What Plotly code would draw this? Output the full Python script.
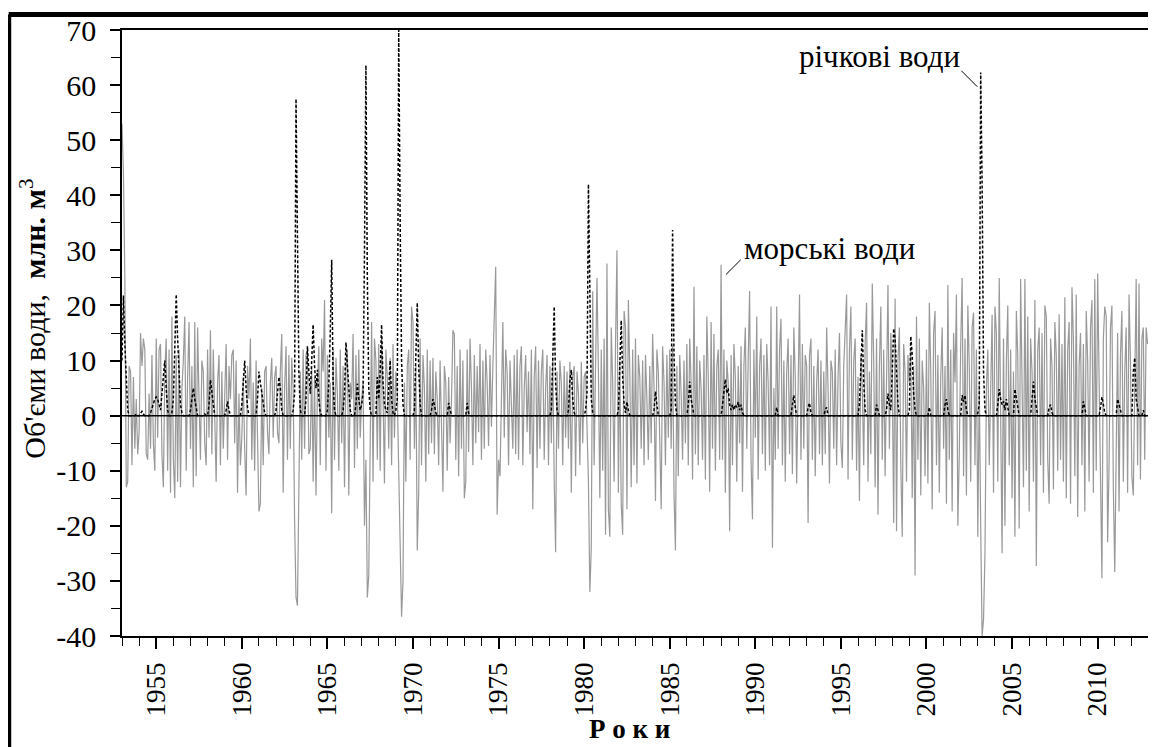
import plotly.graph_objects as go

# ---------------- data (monthly) ----------------
first_year = 1953
tick_years = [1955, 1960, 1965, 1970, 1975, 1980, 1985, 1990, 1995, 2000, 2005, 2010]
y_ticks = [-40, -30, -20, -10, 0, 10, 20, 30, 40, 50, 60, 70]

# sea water exchange (grey solid), 12 monthly values per year
sea_1953_1962 = [
    [53, 44, 25, -13, -12, 9, 8, -9, 7, -6, 3, -7],
    [-3, 15, 9, 14, 12, -7, -8, 4, -6, 11, -5, -10],
    [14, -4, 12, 13, -7, -13, 8, 14, -10, 12, -14, 18],
    [-8, -15, 11, -12, 12, -13, 5, 10, 18, -10, 7, 17],
    [-6, 9, -13, 17, -11, 16, 3, -8, 10, 8, -5, -9],
    [12, -4, 15.5, -7, 12, -3, -12, 6, 11, -9, 8, -6],
    [5, 13, -8, 9, 3, 11, 12, -5, 10, -14, 4, -9],
    [-4, 7, -6, -14.5, 9, 3, 14, -8, 6, -10, 10, -3],
    [-17.4, -16, 5, -9, 8, 9, -3, -7, 6, 10.5, -4, 7],
    [9, -3, -5, 8, 14.8, -14, 5, 12.6, -8, 11, -6, 10.5],
]
sea_1963_1972 = [
    [5, -19, -33, -34.5, -14, 8, -8, 12, -6, 11, 12, -7],
    [-6, 9, -12, 7, -14.5, 5, 12.6, -9, 14, 8, 21, -10],
    [11, -4, 6, -17.7, 12, -8, 10.5, 4, -10, 12, -5, 9],
    [-13, 8, 12, -14.5, 6, 3, 14.8, -9.5, 11, -6, 12, -4],
    [3, 6, -20, -8, -33, -29, -5, 17, -12, 14, 10, -8],
    [13, -10, 14, 4, -12.3, 12, 7, -6, 10.5, -9, 13, -4],
    [8, 4, -10, -25, -36.5, -30, 6, -12, 9, 12, -8, 19.8],
    [17, -6, 9, -24.5, -14, 14, -9, 11, 5, -12, 12, -7],
    [10, -5, 10.5, -7, 8, 3, -9, 10, -4, -13.8, 9, 6],
    [-10, 7, -5, 3, 15.5, 14.8, -8, 9, -11, 12, -6, 10],
]
sea_1973_1982 = [
    [-15, -12, 12, -6.6, 14, 5, -9, 11, -5, 9, -3, 13],
    [-8, 10, -6, 12, 6, -5.5, 11, -2, 9, 20.8, 27, -18],
    [-8, -11, 6, 17, -4, 12, 8, -9, 10, 3, -6, 11],
    [-7, 12, -8, 9, 12.6, -9, 5, 11, -3, 8, -7, 12],
    [-17, 7, 12.6, -9.5, 10, -6, 8, 12, -8, 5, 11, -9],
    [9, -5, 10.5, -11.6, -24.8, 8, -6, 10, 6, -9, 9, -4],
    [8, -6, 9.8, -14, 7, 9, -11, 8, 4, -9, 9.8, -5],
    [7, 8, -5, -12, -32, -24, 22.6, -9, 9, 25, 8, -15],
    [12, -10, 14, -21.6, 27.6, -17, -22, 16, 6, -12, 13, 30],
    [-14, 10, -16, -21.6, 19, 16, -17, 21, 8, -13, 12, -9],
]
sea_1983_1992 = [
    [14, -12.3, 11, 7, -6, 10, -9, 11, 3, -8, 9, -5],
    [14.8, 5, -15.5, 12, 8, -7, -17, 12.6, 6, -9, 11, -4],
    [12, -6, 12.6, -14, -24.5, 9, -11, 11, 4, -8, 10, -5],
    [13, -9, 14, 6, -11.6, 23.4, -7, 12.6, -9, 10, 5, -8],
    [11, -11.6, 18, 7, -13.8, 17, -6, 14.8, -10, 9, 12, -8],
    [27.4, -8, 12, -14, 10, 6, -21, 11, -9, 13, 7, -12],
    [9, -5, 12.6, -13.8, 9, 16, -6, 10, 22.6, -8, -18.8, 12],
    [-4, 18, -11.6, 9, 14, -7, 11, -10, 13, 6, -9, 19.8],
    [-24, 5, -8, 19.8, -6, 12, 17.6, -9, 10, -12, 8, 14],
    [-7, 11, -10.6, 16, 7, -12.3, 9, 22, -8, 13, -6, 11],
]
sea_1993_2002 = [
    [9, -19.5, 11, 14, -8, 9, -11, 6, 12, -7, 10, -9],
    [8, -7, 16, 5, -12.3, 10, 8, -6, 12, -9, 7, 15],
    [-5, -9.5, 9, 15.5, 22, -11.6, 12, 19.8, -8, 10, 14, -10],
    [7, -15.5, 11, 5, -9, 13, 20.5, -12, 8, -7, 24, 10],
    [-13, 14, -18, 9, 19.8, -8, 12, -11, 10, 23.7, -6, 15],
    [7, -19.5, 21.2, -21, 10, 16, -9, -22, 13, 8, -12, 11],
    [6, 12, -15, 9, -29, 18, -8, 14, -14.5, 10, 5, -11],
    [12, -12.3, 20.5, 8, -17, 15, 19, -9, 11, -14, 7, 16],
    [-6, 9, -16, 23.7, -8, 12, -17.4, 15, 6, 22, -20, -7],
    [13, 25, -11, 14, -14.5, 20, 9, -12, 16, 18.7, -9, 12],
]
sea_2003_2012 = [
    [-22, 6, -20, -40, -37, -25, 5, 12, -9, 8, 18.3, -14],
    [19.8, 15, -12, 25, -8, -25, 14, -20, 10, 20, -9, 12],
    [-15, 8, -22, 19, 11, -20.5, 24.8, 9, -13, 24.8, -10, 18],
    [-17.4, 14, 8, -12, 21, -27.3, 12, 16, -9, 15, -14, 20],
    [18, -8, -16, 14, 9, -13.4, 17, 11, -10, 18.4, -8, 13],
    [-12, 21.5, -15, 12, 17, -16, 23.3, 14, -11, 22, -18.4, 9],
    [15, -9, 13, -17.4, 19, 10, -12, 16, 21, -14, 24.8, -10],
    [25.8, 7, -12, -29.5, 14, 19.8, 18, -23, -9, 16, 20, -13],
    [-28.4, -8, 15, -17.4, 11, 19, -12, 8, 16, -14, 22, 10],
    [-11, -14.5, 10, 24.8, -9, 24, -11.6, 14, 16, -8, 16, 13],
]

# river water inflow (black dotted), 12 monthly values per year
river_1953_1962 = [
    [10, 21.8, 13, 5, 1, 0, 0, 0, 0, 0, 0.3, 0],
    [0, 0.5, 0.8, 0.3, 0, 0, 0, 0, 0.5, 1.5, 2.5, 3],
    [3.4, 3, 2, 1, 4, 7, 10, 5, 1, 0, 0, 0.5],
    [3, 12, 22, 14, 8, 2, 0.5, 0, 0, 0, 0, 0],
    [1, 3, 5, 3, 1, 0, 0, 0, 0, 0, 0.3, 0],
    [0, 2, 6.5, 4, 1.5, 0, 0, 0, 0, 0, 0, 0],
    [0, 1, 2.6, 1, 0, 0, 0, 0, 0, 0, 0, 0],
    [2, 6, 10, 5, 1.5, 0, 0, 0, 0, 0, 0, 3],
    [8, 6, 4, 2, 0.5, 0, 0, 0, 0, 0, 0, 0],
    [1, 4, 7, 5, 1, 0, 0, 0, 0, 0, 0, 0],
]
river_1963_1972 = [
    [1, 4, 57.5, 28, 8, 1, 0, 0, 0, 3, 12.6, 8],
    [4, 10, 16.5, 9, 5, 8.3, 3, 0.5, 0, 0, 0, 0],
    [1, 6, 15, 28.3, 6, 1, 0, 0, 0, 0, 0, 1],
    [4, 13.3, 9, 4, 1, 0, 0, 0, 2, 5.8, 3, 1],
    [2, 4, 30, 63.6, 25, 5, 1, 0, 0, 0, 0, 7],
    [3, 8, 16.5, 6, 2, 1, 0.5, 5, 10, 3, 0.5, 0],
    [1, 3, 70, 35, 10, 2, 0, 0, 0, 0, 0, 0],
    [0, 1, 10, 20.5, 9, 2, 0, 0, 0, 0, 0, 0],
    [0, 1, 3, 2, 0.5, 0, 0, 0, 0, 0, 0, 0],
    [0, 2.3, 1, 0, 0, 0, 0, 0, 0, 0, 0, 0],
]
river_1973_1982 = [
    [0, 0, 2.3, 0.5, 0, 0, 0, 0, 0, 0, 0, 0],
    [0, 0, 0, 0, 0, 0, 0, 0, 0, 0, 0, 0],
    [0, 0, 0, 0, 0, 0, 0, 0, 0, 0, 0, 0],
    [0, 0, 0, 0, 0, 0, 0, 0, 0, 0, 0, 0],
    [0, 0, 0, 0, 0, 0, 0, 0, 0, 0, 0, 0],
    [0, 1, 10, 19.8, 6, 1, 0, 0, 0, 0, 0, 0],
    [0, 1, 6.5, 8.3, 3, 0.5, 0, 0, 0, 0, 0, 0],
    [0, 1, 4, 42, 17, 3, 0.5, 0, 0, 0, 0, 0],
    [0, 0, 0, 0, 0, 0, 0, 0, 0, 0, 0, 0],
    [1, 8, 17.3, 7, 2, 0.5, 2.5, 1, 0, 0, 0, 0],
]
river_1983_1992 = [
    [0, 0, 0, 0, 0, 0, 0, 0, 0, 0, 0, 0],
    [0, 1, 4.4, 2, 0, 0, 0, 0, 0, 0, 0, 0],
    [0, 1, 33.7, 11, 2, 0, 0, 0, 0, 0, 0, 0],
    [0, 2, 6.2, 3, 1, 0, 0, 0, 0, 0, 0, 0],
    [0, 0, 0, 0, 0, 0, 0, 0, 0, 0, 0, 0],
    [0, 2, 4, 6.6, 4, 5, 2, 1, 2, 1, 2, 1.5],
    [2.5, 1, 2, 0.5, 0, 0, 0, 0, 0, 0, 0, 0],
    [0, 0, 0, 0, 0, 0, 0, 0, 0, 0, 0, 0],
    [0, 0, 0, 1.5, 0, 0, 0, 0, 0, 0, 0, 0],
    [0, 0, 2, 3.7, 1.5, 0, 0, 0, 0, 0, 0, 0],
]
river_1993_2002 = [
    [0, 1.5, 2.3, 0.5, 0, 0, 0, 0, 0, 0, 0, 0],
    [0, 1, 1.5, 0, 0, 0, 0, 0, 0, 0, 0, 0],
    [0, 0, 0, 0, 0, 0, 0, 0, 0, 0, 0, 0],
    [0, 2, 9, 15.5, 6, 1, 0, 0, 0, 0, 0, 0],
    [0, 2, 1, 0, 0, 0, 0, 0, 1, 4, 2, 1],
    [8, 15.8, 14, 6, 2, 0, 0, 0, 0, 0, 0, 0],
    [1, 14.4, 11, 4, 1, 0, 0, 0, 0, 0, 0, 0],
    [0, 0, 1.5, 0, 0, 0, 0, 0, 0, 0, 0, 0],
    [0, 2, 3, 1, 0, 0, 0, 0, 0, 0, 0, 0],
    [0, 3.7, 2.5, 3.7, 1, 0, 0, 0, 0, 0, 0, 0],
]
river_2003_2012 = [
    [0.5, 2, 62.3, 42, 8, 1, 0, 0, 0, 0, 0, 0],
    [0, 0, 2, 4.8, 3, 2, 2.6, 1, 3, 1.5, 0, 0],
    [0, 0, 4.8, 3, 1, 0, 0, 0, 0, 0, 0, 0],
    [0, 0, 3, 6.2, 3, 1, 0, 0, 0, 0, 0, 0],
    [0, 0, 1.5, 2, 0.5, 0, 0, 0, 0, 0, 0, 0],
    [0, 0, 0, 0, 0, 0, 0, 0, 0, 0, 0, 0],
    [0, 0, 2.6, 1.5, 0, 0, 0, 0, 0, 0, 0, 0],
    [0, 0, 1.5, 3.4, 2, 0.5, 0, 0, 0, 0, 0, 0],
    [0, 0, 3, 2, 0.5, 0, 0, 0, 0, 0, 0, 0],
    [0, 8, 10.5, 3, 1, 0, 0, 0, 1, 0, 0, 0],
]

# ---------------- build series ----------------
sea_years = (sea_1953_1962 + sea_1963_1972 + sea_1973_1982 +
             sea_1983_1992 + sea_1993_2002 + sea_2003_2012)
river_years = (river_1953_1962 + river_1963_1972 + river_1973_1982 +
               river_1983_1992 + river_1993_2002 + river_2003_2012)

x, sea, river = [], [], []
for k, (srow, rrow) in enumerate(zip(sea_years, river_years)):
    for m in range(12):
        x.append(first_year + k + m / 12.0)
        sea.append(srow[m])
        river.append(rrow[m])

FONT = "Liberation Serif, Times New Roman, DejaVu Serif, serif"

fig = go.Figure()
fig.add_trace(go.Scatter(x=x, y=sea, mode="lines",
                         line=dict(color="#999999", width=1.2), name="морські води"))
fig.add_trace(go.Scatter(x=x, y=river, mode="lines",
                         line=dict(color="black", width=1.5, dash="3px,2px"),
                         name="річкові води"))

tick_style = dict(showgrid=False, zeroline=False, tickcolor="black", tickwidth=1.5)

fig.update_layout(
    # the page body adds an 8px margin, so the figure is 8px smaller
    width=1148, height=739,
    margin=dict(l=114, r=5, t=18, b=111),
    plot_bgcolor="white", paper_bgcolor="white",
    showlegend=False,
    font=dict(family=FONT, color="black"),
    xaxis=dict(range=[1953, 2013], tickmode="array", tickvals=tick_years,
               ticktext=[str(t) for t in tick_years],
               ticks="outside", ticklen=11, tickangle=-90,
               tickfont=dict(size=27, family=FONT), ticklabelstandoff=3,
               showline=True, mirror=True, linecolor="black", linewidth=1.5,
               minor=dict(dtick=1, tick0=1953, ticks="outside", ticklen=8,
                          tickcolor="black", tickwidth=1.2, showgrid=False),
               **tick_style),
    xaxis2=dict(range=[1953, 2013], overlaying="x", anchor="y", side="bottom",
                tickmode="array", tickvals=tick_years, ticks="inside", ticklen=9,
                showticklabels=False, showline=False, **tick_style),
    yaxis=dict(range=[-40, 70], tickmode="array", tickvals=y_ticks,
               ticktext=[str(v) for v in y_ticks],
               ticks="outside", ticklen=10,
               tickfont=dict(size=30, family=FONT), ticklabelstandoff=8,
               showline=True, mirror=True, linecolor="black", linewidth=1.5,
               minor=dict(dtick=5, tick0=0, ticks="outside", ticklen=9,
                          tickcolor="black", tickwidth=1.2, showgrid=False),
               **tick_style),
    yaxis2=dict(range=[-40, 70], overlaying="y", anchor="x", side="left",
                tickmode="array", tickvals=y_ticks, ticks="inside", ticklen=10,
                showticklabels=False, showline=False, **tick_style),
)

# zero line on top of the data
fig.add_shape(type="line", xref="paper", yref="y", x0=0, x1=1, y0=0, y1=0,
              line=dict(color="black", width=1.5), layer="above")

# outer thick frame (left and top edges)
fig.add_shape(type="line", xref="paper", yref="paper", x0=-0.1103, x1=-0.1103,
              y0=-0.3, y1=1.0254, line=dict(color="black", width=5))
fig.add_shape(type="line", xref="paper", yref="paper", x0=-0.1103, x1=1.2,
              y0=1.0254, y1=1.0254, line=dict(color="black", width=5))

# leader lines for the labels
fig.add_shape(type="line", xref="x", yref="y", x0=1988.28, y0=25.6, x1=1989.15, y1=28.3,
              line=dict(color="black", width=1))
fig.add_shape(type="line", xref="x", yref="y", x0=2002.04, y0=62.6, x1=2002.97, y1=59.7,
              line=dict(color="black", width=1))

fig.add_annotation(x=1989.2, y=30.4, xref="x", yref="y", text="морські води",
                   showarrow=False, xanchor="left", yanchor="middle",
                   font=dict(size=31, family=FONT))
fig.add_annotation(x=1992.42, y=65.2, xref="x", yref="y", text="річкові води",
                   showarrow=False, xanchor="left", yanchor="middle",
                   font=dict(size=31, family=FONT))

# axis titles
fig.add_annotation(xref="paper", yref="paper", x=-0.087, y=0.523,
                   text="Об'єми води,  <b>млн. м</b><sup>3</sup>", textangle=-90,
                   showarrow=False, xanchor="center", yanchor="middle",
                   font=dict(size=30, family=FONT))
fig.add_annotation(xref="paper", yref="paper", x=0.4937, y=-0.18197,
                   text="<b>Р о к и</b>", showarrow=False,
                   xanchor="center", yanchor="bottom",
                   font=dict(size=27, family=FONT))

fig.write_html("out.html")
